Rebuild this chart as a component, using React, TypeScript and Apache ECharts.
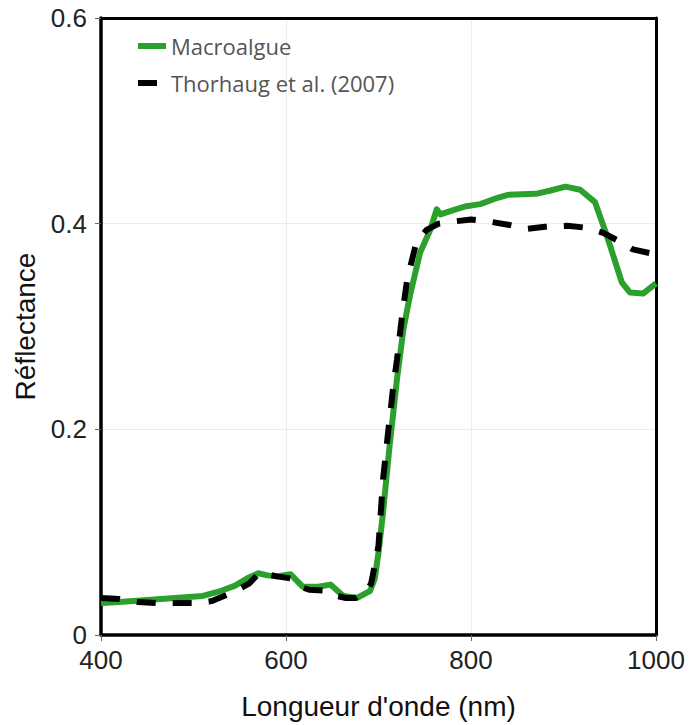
import React, { useEffect, useRef } from "react";
import * as echarts from "echarts";

const macroWl = [400, 420, 450, 480, 510, 530, 545, 560, 570, 580, 590, 605, 618, 635, 648, 662, 677, 691, 696, 700, 705, 712, 720, 727, 734, 745, 756, 763, 767, 780, 795, 810, 825, 840, 870, 885, 902, 918, 934, 947, 963, 972, 986, 1000];
const macroR = [0.031, 0.032, 0.034, 0.036, 0.038, 0.043, 0.048, 0.056, 0.06, 0.058, 0.057, 0.059, 0.047, 0.047, 0.049, 0.038, 0.036, 0.043, 0.055, 0.08, 0.12, 0.184, 0.249, 0.298, 0.33, 0.372, 0.394, 0.414, 0.409, 0.413, 0.417, 0.419, 0.424, 0.428, 0.429, 0.432, 0.436, 0.433, 0.421, 0.388, 0.343, 0.333, 0.332, 0.342];

const thorWl = [400, 420, 440, 460, 500, 520, 536, 550, 560, 572, 590, 605, 615, 625, 645, 655, 665, 675, 687, 692, 696, 700, 705, 710, 716, 720, 725, 731, 741, 752, 765, 780, 800, 820, 840, 860, 880, 904, 925, 943, 960, 975, 1000];
const thorR = [0.036, 0.035, 0.032, 0.031, 0.031, 0.033, 0.039, 0.045, 0.05, 0.061, 0.057, 0.055, 0.047, 0.044, 0.043, 0.038, 0.036, 0.036, 0.043, 0.05, 0.068, 0.087, 0.152, 0.194, 0.242, 0.268, 0.307, 0.346, 0.382, 0.394, 0.4, 0.402, 0.404, 0.402, 0.399, 0.395, 0.397, 0.398, 0.396, 0.391, 0.383, 0.375, 0.37];

const seriesNames = ["Macroalgue", "Thorhaug et al. (2007)"];
const xTicks = [400, 600, 800, 1000];
const yTicks = [0, 0.2, 0.4, 0.6];

export default function App() {
  const ref = useRef<HTMLDivElement>(null);
  useEffect(() => {
    if (!ref.current) return;
    const chart = echarts.init(ref.current, null, { renderer: "svg" });
    const labelFont = "'Liberation Sans', Arial, sans-serif";
    const frameAxis = {
      show: true,
      axisLine: { show: true, onZero: false, lineStyle: { color: "#000", width: 3 } },
      axisTick: { show: false },
      axisLabel: { show: false },
      splitLine: { show: false },
    };
    chart.setOption({
      animation: false,
      backgroundColor: "#ffffff",
      grid: {
        left: 101,
        right: 35,
        top: 18,
        bottom: 88,
        show: false,
      },
      legend: {
        orient: "vertical",
        left: 135,
        top: 35,
        padding: 0,
        itemWidth: 28,
        itemHeight: 6,
        itemGap: 15,
        itemStyle: { opacity: 0 },
        lineStyle: { width: 6 },
        textStyle: { fontSize: 22, color: "#555", fontFamily: "'Open Sans', sans-serif" },
        data: seriesNames,
      },
      xAxis: [
        {
          type: "value",
          min: 400,
          max: 1000,
          interval: 200,
          name: "Longueur d'onde (nm)",
          nameLocation: "middle",
          nameGap: 57,
          nameTextStyle: { fontSize: 28, color: "#111", fontFamily: labelFont },
          axisLine: { show: true, onZero: false, lineStyle: { color: "#000", width: 3.5 } },
          axisTick: { show: true, inside: false, length: 6, lineStyle: { color: "#666", width: 1 } },
          axisLabel: {
            fontSize: 26,
            color: "#222",
            fontFamily: labelFont,
            margin: 12,
            formatter: (v: number) => (xTicks.includes(v) ? String(v) : ""),
          },
          splitLine: { show: true, lineStyle: { color: "#ececec", width: 1 } },
        },
        { type: "value", position: "top", min: 400, max: 1000, interval: 200, ...frameAxis },
      ],
      yAxis: [
        {
          type: "value",
          min: 0,
          max: 0.6,
          interval: 0.2,
          name: "Réflectance",
          nameLocation: "middle",
          nameGap: 60,
          nameTextStyle: { fontSize: 28, color: "#111", fontFamily: labelFont },
          axisLine: { show: true, onZero: false, lineStyle: { color: "#000", width: 3.5 } },
          axisTick: { show: true, inside: false, length: 6, lineStyle: { color: "#666", width: 1 } },
          axisLabel: {
            fontSize: 26,
            color: "#222",
            fontFamily: labelFont,
            margin: 14,
            formatter: (v: number) => {
              const t = yTicks.find((y) => Math.abs(y - v) < 1e-9);
              return t === undefined ? "" : t === 0 ? "0" : t.toFixed(1);
            },
          },
          splitLine: { show: true, lineStyle: { color: "#ececec", width: 1 } },
        },
        { type: "value", position: "right", min: 0, max: 0.6, interval: 0.2, ...frameAxis },
      ],
      series: [
        {
          name: seriesNames[0],
          type: "line",
          data: macroWl.map((w, i) => [w, macroR[i]]),
          showSymbol: false,
          symbol: "none",
          smooth: false,
          lineStyle: { color: "#2ca02c", width: 6, join: "round" },
          itemStyle: { color: "#2ca02c" },
          z: 2,
        },
        {
          name: seriesNames[1],
          type: "line",
          data: thorWl.map((w, i) => [w, thorR[i]]),
          showSymbol: false,
          symbol: "none",
          smooth: false,
          lineStyle: { color: "#000", width: 6, type: [19, 17] },
          itemStyle: { color: "#000" },
          z: 3,
        },
      ],
    });
    return () => chart.dispose();
  }, []);
  return (
    <div
      ref={ref}
      style={{ position: "fixed", left: 0, top: 0, width: 691, height: 725 }}
    />
  );
}
